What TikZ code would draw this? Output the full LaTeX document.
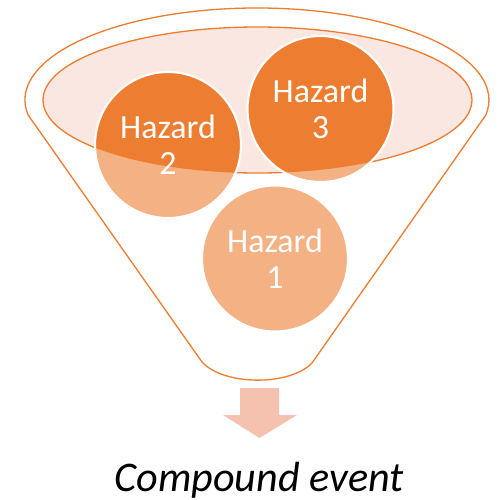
\documentclass[tikz,border=0pt]{standalone}
\usepackage{fontspec}
\setmainfont{Carlito}
\usepackage{xcolor}
\usepackage{tikz}
\usetikzlibrary{arrows.meta, positioning}

\definecolor{hazdark}{HTML}{ED7D31}
\definecolor{hazlight}{HTML}{F4B183}
\definecolor{liquid}{HTML}{FBE7E1}
\definecolor{outflow}{HTML}{F5C2AF}

\begin{document}
\begin{tikzpicture}[
  funnel/.style={draw=hazdark, line width=0.75pt},
  hazard/.style={circle, draw=white, line width=1.2pt, fill=hazlight, minimum size=2.92cm,
    inner sep=0pt, align=center, text=white, font=\fontsize{19.3}{20.5}\selectfont,
    path picture={\fill[hazdark] (top) ellipse [x radius=4.29cm, y radius=1.46cm];}},
  label/.style={font=\fontsize{24}{28}\selectfont\itshape, anchor=base}
]
\useasboundingbox (0,0) rectangle (10.04,-9.98);

% funnel outline and the liquid surface
\coordinate (rim) at (5.14,-2.0);
\coordinate (top) at (5.15,-2.0);
\draw[funnel] (0.562,-2.30) arc[start angle=189.4, end angle=-9.4, x radius=4.64, y radius=1.84]
  -- (6.24,-7.26) .. controls (5.8,-7.72) and (4.48,-7.72) .. (4.04,-7.24) -- cycle;
\draw[funnel, fill=liquid] (top) ellipse [x radius=4.29, y radius=1.46];

\node[hazard] (h2) at (3.36,-2.90) {Hazard\\2};
\node[hazard] (h3) at (6.41,-2.18) {Hazard\\3};
\node[hazard] (h1) at (5.50,-5.17) {Hazard\\1};

% outflow arrow
\fill[outflow] (4.80,-7.76) -- (5.58,-7.76) -- (5.58,-8.30) -- (5.94,-8.30) -- (5.19,-8.76)
  -- (4.46,-8.30) -- (4.80,-8.30) -- cycle;

\node[label] (event) at (5.18,-9.82) {Compound event};
\end{tikzpicture}
\end{document}
